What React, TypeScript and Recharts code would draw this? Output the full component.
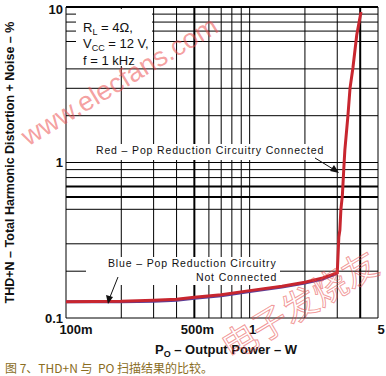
import { Line, LineChart, ReferenceLine, XAxis, YAxis } from 'recharts';

// output power (W) / THD+N (%)
const powerRed = [0.1, 0.2, 0.3, 0.4, 0.5, 0.7, 1, 1.5, 2, 2.5, 3, 3.06, 3.1, 3.14, 3.2, 3.27, 3.3, 3.43, 3.52, 3.65, 3.83, 4.04];
const thdRed = [0.127, 0.128, 0.13, 0.132, 0.136, 0.141, 0.15, 0.16, 0.17, 0.181, 0.195, 0.332, 0.368, 0.5, 0.62, 1.0, 1.2, 2.0, 3.0, 4.05, 6.6, 9.3];
const powerBlue = [0.1, 0.2, 0.3, 0.4, 0.5, 0.7, 1, 1.5, 2, 2.5, 3];
const thdBlue = [0.127, 0.127, 0.128, 0.13, 0.134, 0.139, 0.148, 0.158, 0.168, 0.178, 0.194];

const xTicks = [0.1, 0.5, 1, 5];
const xTickLabels = ['100m', '500m', '1', '5'];
const yTicks = [0.1, 1, 10];
const yTickLabels = ['0.1', '1', '10'];

const xGridThin = [0.1, 0.2, 0.3, 0.4, 0.6, 0.7, 0.8, 0.9, 1, 2, 3, 5];
const xGridHeavy = [0.5, 4];
const yGridThin = [0.1, 0.2, 0.3, 0.5, 0.8, 0.9, 1, 2, 3, 4, 6, 7, 8, 9];
const yGridHeavy = [0.6, 0.7, 10];

const redRows = powerRed.map((p, i) => ({ p, thd: thdRed[i] }));
const blueRows = powerBlue.map((p, i) => ({ p, thd: thdBlue[i] }));

const FONT = '"Liberation Sans", Arial, sans-serif';
const RED = '#c8262f';
const BLUE = '#5a3f98';

const XTick = (props: any) => {
  const { x, y, payload } = props;
  const i = xTicks.indexOf(payload.value);
  return (
    <text x={x + (i === 0 ? 10 : 3)} y={y + 8} textAnchor='middle' fontFamily={FONT} fontSize={13} fontWeight='bold' fill='#111'>
      {xTickLabels[i]}
    </text>
  );
};

const YTick = (props: any) => {
  const { x, y, payload } = props;
  const i = yTicks.indexOf(payload.value);
  return (
    <text x={x + 5} y={y + 4.5} textAnchor='end' fontFamily={FONT} fontSize={13} fontWeight='bold' fill='#111'>
      {yTickLabels[i]}
    </text>
  );
};

const XTitle = ({ viewBox }: any) => (
  <text x={viewBox.x + viewBox.width / 2 + 4} y={viewBox.y + 36} textAnchor='middle' fontFamily={FONT} fontSize={13} fontWeight='bold' fill='#111'>
    P<tspan fontSize={9} dy={3}>O</tspan>
    <tspan dy={-3}> – Output Power – W</tspan>
  </text>
);

const YTitle = ({ viewBox }: any) => {
  const cx = viewBox.x + 14;
  const cy = viewBox.y + viewBox.height / 2;
  return (
    <text x={cx} y={cy} transform={`rotate(-90 ${cx} ${cy})`} textAnchor='middle' fontFamily={FONT} fontSize={12.5} fontWeight='bold' fill='#111'>
      THD+N – Total Harmonic Distortion + Noise – %
    </text>
  );
};

const Notes = () => (
  <svg width={386} height={376} style={{ position: 'absolute', left: 0, top: 0, pointerEvents: 'none' }}>
    <rect x={76} y={9} width={76} height={57} fill='#fff' />
    <rect x={92} y={144} width={237} height={16} fill='#fff' />
    <rect x={86} y={257} width={194} height={28} fill='#fff' />
    <g fontFamily={FONT} fontSize={13} fill='#111'>
      <text x={83} y={32}>
        R<tspan fontSize={9} dy={3}>L</tspan>
        <tspan dy={-3}> = 4Ω,</tspan>
      </text>
      <text x={83} y={48}>
        V<tspan fontSize={9} dy={3}>CC</tspan>
        <tspan dy={-3}> = 12 V,</tspan>
      </text>
      <text x={83} y={65}>f = 1 kHz</text>
    </g>
    <g fontFamily={FONT} fontSize={10.5} letterSpacing={0.85} fill='#111'>
      <text x={96} y={154}>Red – Pop Reduction Circuitry Connected</text>
      <text x={108} y={267}>Blue – Pop Reduction Circuitry</text>
      <text x={196} y={281}>Not Connected</text>
    </g>
    <line x1={315} y1={158} x2={333} y2={169} stroke='#111' strokeWidth={1} />
    <polygon points='339,173 330,171 334,165' fill='#111' />
    <line x1={118} y1={277} x2={110} y2={297} stroke='#111' strokeWidth={1} />
    <polygon points='108,304 106,295 113,297' fill='#111' />
    <text x={5} y={373} xmlSpace='preserve' fontFamily='"Noto Sans CJK SC", sans-serif' fontSize={12} fill='#8a6d1e'>
      {'图 7、THD+N 与  PO 扫描结果的比较。'}
    </text>
    <text x={120} y={90} transform='rotate(-31 120 82)' textAnchor='middle' fontFamily={FONT} fontSize={27} fill='rgba(236,80,80,0.55)'>
      www.elecfans.com
    </text>
    <text x={300} y={318} transform='rotate(-31 300 306)' textAnchor='middle' fontFamily='"Noto Sans CJK SC", sans-serif' fontSize={35} fill='none' stroke='rgba(230,70,70,0.55)' strokeWidth={1}>
      电子发烧友
    </text>
  </svg>
);

export default function App() {
  return (
    <div style={{ position: 'absolute', left: 0, top: 0, width: 386, height: 376, background: '#fff' }}>
      <LineChart width={386} height={376} margin={{ top: 7, right: 8, left: 0, bottom: 38 }}>
        <XAxis
          dataKey='p'
          type='number'
          scale='log'
          domain={[0.1, 5]}
          ticks={xTicks}
          allowDataOverflow
          axisLine={false}
          tickLine={false}
          height={20}
          tick={<XTick />}
          label={{ content: <XTitle /> }}
        />
        <YAxis
          dataKey='thd'
          type='number'
          scale='log'
          domain={[0.1, 10]}
          ticks={yTicks}
          allowDataOverflow
          axisLine={false}
          tickLine={false}
          width={66}
          tick={<YTick />}
          label={{ content: <YTitle /> }}
        />
        {xGridThin.map(v => (
          <ReferenceLine key={`xt${v}`} x={v} stroke='#000' strokeWidth={1} />
        ))}
        {yGridThin.map(v => (
          <ReferenceLine key={`yt${v}`} y={v} stroke='#000' strokeWidth={1} />
        ))}
        {xGridHeavy.map(v => (
          <ReferenceLine key={`xh${v}`} x={v} stroke='#000' strokeWidth={2} />
        ))}
        {yGridHeavy.map(v => (
          <ReferenceLine key={`yh${v}`} y={v} stroke='#000' strokeWidth={2} />
        ))}
        <Line data={blueRows} dataKey='thd' type='linear' stroke={BLUE} strokeWidth={3} dot={false} isAnimationActive={false} />
        <Line data={redRows} dataKey='thd' type='linear' stroke={RED} strokeWidth={3} dot={false} isAnimationActive={false} />
      </LineChart>
      <Notes />
    </div>
  );
}
